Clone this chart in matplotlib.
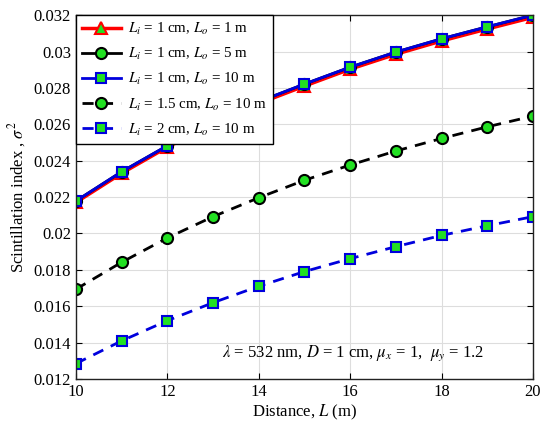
import matplotlib
matplotlib.use("Agg")
import matplotlib.pyplot as plt

plt.rcParams['font.family'] = ['Liberation Serif', 'DejaVu Serif']
plt.rcParams['mathtext.fontset'] = 'stix'

distance = [10, 11, 12, 13, 14, 15, 16, 17, 18, 19, 20]
li1_lo1 = [0.02170, 0.02330, 0.02474, 0.02598, 0.02714, 0.02810, 0.02903, 0.02985, 0.03058, 0.03124, 0.03188]
li1_lo5 = [0.02178, 0.02339, 0.02482, 0.02607, 0.02724, 0.02821, 0.02914, 0.02997, 0.03070, 0.03136, 0.03200]
li1_lo10 = [0.02178, 0.02339, 0.02482, 0.02607, 0.02724, 0.02821, 0.02914, 0.02997, 0.03070, 0.03136, 0.03200]
li15_lo10 = [0.01693, 0.01841, 0.01975, 0.02092, 0.02196, 0.02292, 0.02376, 0.02453, 0.02522, 0.02586, 0.02645]
li2_lo10 = [0.01284, 0.01409, 0.01520, 0.01619, 0.01709, 0.01790, 0.01861, 0.01927, 0.01989, 0.02042, 0.02092]

labels = [r'$L_i$ = 1 cm, $L_o$ = 1 m',
          r'$L_i$ = 1 cm, $L_o$ = 5 m',
          r'$L_i$ = 1 cm, $L_o$ = 10 m',
          r'$L_i$ = 1.5 cm, $L_o$ = 10 m',
          r'$L_i$ = 2 cm, $L_o$ = 10 m']
yticks = [0.012, 0.014, 0.016, 0.018, 0.02, 0.022, 0.024, 0.026, 0.028, 0.03, 0.032]
ytick_labels = ['0.012', '0.014', '0.016', '0.018', '0.02', '0.022', '0.024', '0.026', '0.028', '0.03', '0.032']
xticks = [10, 12, 14, 16, 18, 20]

green = '#22e022'
fig = plt.figure(figsize=(5.5, 4.33), dpi=100)
ax = fig.add_axes([0.138, 0.125, 0.831, 0.840])

ax.plot(distance, li1_lo1, color='red', lw=2.5, marker='^', ms=8, mfc=green, mec='red', mew=1.5, label=labels[0])
ax.plot(distance, li1_lo5, color='black', lw=2, marker='o', ms=8, mfc=green, mec='black', mew=1.5, label=labels[1])
ax.plot(distance, li1_lo10, color='#0000dd', lw=2, marker='s', ms=7, mfc=green, mec='#0000dd', mew=1.5, label=labels[2])
ax.plot(distance, li15_lo10, color='black', lw=2, ls=(0, (4, 3)), marker='o', ms=8, mfc=green, mec='black', mew=1.5, label=labels[3])
ax.plot(distance, li2_lo10, color='#0000dd', lw=2, ls=(0, (4, 3)), marker='s', ms=7, mfc=green, mec='#0000dd', mew=1.5, label=labels[4])

ax.set_xlim(10, 20)
ax.set_ylim(0.012, 0.032)
ax.set_xticks(xticks)
ax.set_yticks(yticks)
ax.set_yticklabels(ytick_labels)
ax.tick_params(direction='in', top=True, right=True, labelsize=12, length=4)
ax.grid(True, color='#dddddd', lw=0.8)
ax.set_axisbelow(True)
for s in ax.spines.values():
    s.set_linewidth(1.0)
    s.set_color('#222222')

ax.set_xlabel(r'Distance, $L$ (m)', fontsize=12, labelpad=2)
ax.set_ylabel(r'Scintillation index , $\sigma^2$', fontsize=12, labelpad=4)

ax.text(13.2, 0.0132, r'$\lambda$ = 532 nm, $D$ = 1 cm, $\mu_x$ = 1,  $\mu_y$ = 1.2', fontsize=12)

leg = ax.legend(loc='upper left', fontsize=10.8, frameon=True, fancybox=False, edgecolor='black',
                framealpha=1, borderaxespad=0, handlelength=2.6, labelspacing=0.6, borderpad=0.4,
                handletextpad=0.5)
leg.get_frame().set_linewidth(1.0)

fig.savefig('out.png', dpi=100)
